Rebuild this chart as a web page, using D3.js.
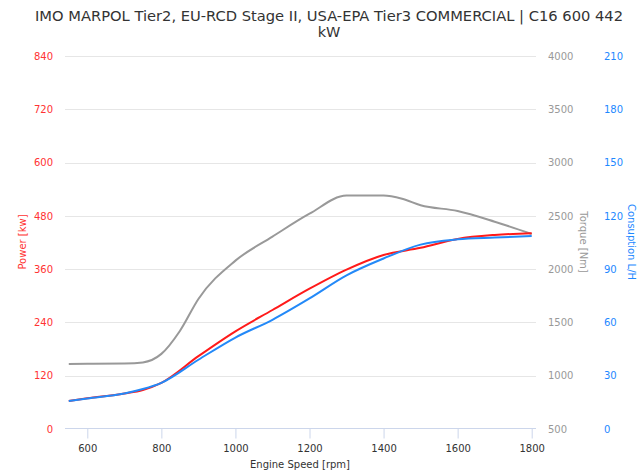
<!DOCTYPE html>
<html><head><meta charset="utf-8">
<script src="https://cdn.jsdelivr.net/npm/d3@7"></script>
<style>body{margin:0;background:#fff;font-family:"DejaVu Sans",Verdana,sans-serif;}</style>
</head><body><svg id="c" width="638" height="475"></svg>
<script>
const title1 = "IMO MARPOL Tier2, EU-RCD Stage II, USA-EPA Tier3 COMMERCIAL | C16 600 442";
const title2 = "kW";
const xTicks = [600, 800, 1000, 1200, 1400, 1600, 1800];
const powerTicks = [0, 120, 240, 360, 480, 600, 720, 840];
const torqueTicks = [500, 1000, 1500, 2000, 2500, 3000, 3500, 4000];
const consTicks = [0, 30, 60, 90, 120, 150, 180, 210];

const powerRpm = [550, 600, 700, 750, 800, 900, 1000, 1100, 1200, 1300, 1400, 1500, 1600, 1700, 1800];
const powerKw  = [63, 69, 80, 88, 104, 164, 220, 268, 316, 359, 392, 408, 428, 437, 441];

const consRpm = [550, 600, 700, 750, 800, 900, 1000, 1100, 1200, 1300, 1400, 1500, 1600, 1700, 1800];
const consLh  = [15.8, 17.2, 20, 22.5, 26, 39, 51.5, 61.5, 73.5, 86.5, 96, 103.8, 106.8, 107.8, 108.6];

const torqueRpm = [550, 600, 700, 750, 800, 850, 900, 1000, 1100, 1200, 1300, 1400, 1450, 1500, 1600, 1700, 1800];
const torqueNm  = [1110, 1112, 1115, 1125, 1205, 1420, 1720, 2080, 2305, 2520, 2690, 2690, 2660, 2600, 2545, 2445, 2330];

const svg = d3.select("#c");
const plotL = 65, plotR = 536, plotT = 56, plotB = 429;

const x = d3.scaleLinear().domain([600, 1800]).range([87.3, 531.7]);
const yP = d3.scaleLinear().domain([0, 840]).range([plotB, plotT]);
const yT = d3.scaleLinear().domain([500, 4000]).range([plotB, plotT]);
const yC = d3.scaleLinear().domain([0, 210]).range([plotB, plotT]);

// title
svg.append("text").attr("x", 329).attr("y", 21).attr("text-anchor", "middle")
  .attr("font-size", 14.5).attr("fill", "#333")
  .attr("textLength", 588).attr("lengthAdjust", "spacingAndGlyphs").text(title1);
svg.append("text").attr("x", 329).attr("y", 37).attr("text-anchor", "middle")
  .attr("font-size", 14.5).attr("fill", "#333").text(title2);

// grid
svg.append("g").selectAll("line").data(powerTicks.slice(1)).join("line")
  .attr("x1", plotL).attr("x2", plotR)
  .attr("y1", d => Math.round(yP(d)) + 0.5).attr("y2", d => Math.round(yP(d)) + 0.5)
  .attr("stroke", "#e6e6e6").attr("stroke-width", 1);

// x axis
const xAxis = d3.axisBottom(x).tickValues(xTicks).tickSize(10).tickPadding(6).tickFormat(d3.format("d"));
const gx = svg.append("g").attr("transform", `translate(0,${plotB - 0.5})`).call(xAxis);
gx.select(".domain").remove();
gx.append("line").attr("x1", plotL).attr("x2", plotR).attr("y1", 0).attr("y2", 0).attr("stroke", "#ccd6eb");
gx.selectAll(".tick line").attr("stroke", "#ccd6eb");
gx.selectAll(".tick text").attr("fill", "#333").attr("font-size", 10).attr("font-family", "DejaVu Sans");
svg.append("text").attr("x", 300).attr("y", 468).attr("text-anchor", "middle")
  .attr("font-size", 10).attr("fill", "#333").text("Engine Speed [rpm]");

// left axis
const gl = svg.append("g").attr("transform", `translate(${plotL - 12},0)`)
  .call(d3.axisLeft(yP).tickValues(powerTicks).tickSize(0).tickPadding(0).tickFormat(d3.format("d")));
gl.select(".domain").remove();
gl.selectAll(".tick text").attr("fill", "#ff3333").attr("font-size", 10).attr("font-family", "DejaVu Sans");
svg.append("text").attr("transform", `translate(26,242) rotate(-90)`).attr("text-anchor", "middle")
  .attr("font-size", 10).attr("fill", "#ff3333").text("Power [kw]");

// torque axis
const gt = svg.append("g").attr("transform", `translate(548,0)`)
  .call(d3.axisRight(yT).tickValues(torqueTicks).tickSize(0).tickPadding(0).tickFormat(d3.format("d")));
gt.select(".domain").remove();
gt.selectAll(".tick text").attr("fill", "#999").attr("font-size", 10).attr("font-family", "DejaVu Sans");
svg.append("text").attr("transform", `translate(580,242) rotate(90)`).attr("text-anchor", "middle")
  .attr("font-size", 10).attr("fill", "#999").text("Torque [Nm]");

// consumption axis
const gc = svg.append("g").attr("transform", `translate(604,0)`)
  .call(d3.axisRight(yC).tickValues(consTicks).tickSize(0).tickPadding(0).tickFormat(d3.format("d")));
gc.select(".domain").remove();
gc.selectAll(".tick text").attr("fill", "#1e88ff").attr("font-size", 10).attr("font-family", "DejaVu Sans");
svg.append("text").attr("transform", `translate(628,242) rotate(90)`).attr("text-anchor", "middle")
  .attr("font-size", 10).attr("fill", "#1e88ff").text("Consuption  L/H");

// lines
const curve = d3.curveMonotoneX;
const mk = (xs, ys, sy) => d3.line().curve(curve).x((d, i) => x(xs[i])).y(d => sy(d))(ys);

svg.append("path").attr("d", mk(torqueRpm, torqueNm, yT)).attr("fill", "none")
  .attr("stroke", "#999999").attr("stroke-width", 2);
svg.append("path").attr("d", mk(powerRpm, powerKw, yP)).attr("fill", "none")
  .attr("stroke", "#ff1a1a").attr("stroke-width", 2);
svg.append("path").attr("d", mk(consRpm, consLh, yC)).attr("fill", "none")
  .attr("stroke", "#2389f8").attr("stroke-width", 2);
</script></body></html>
